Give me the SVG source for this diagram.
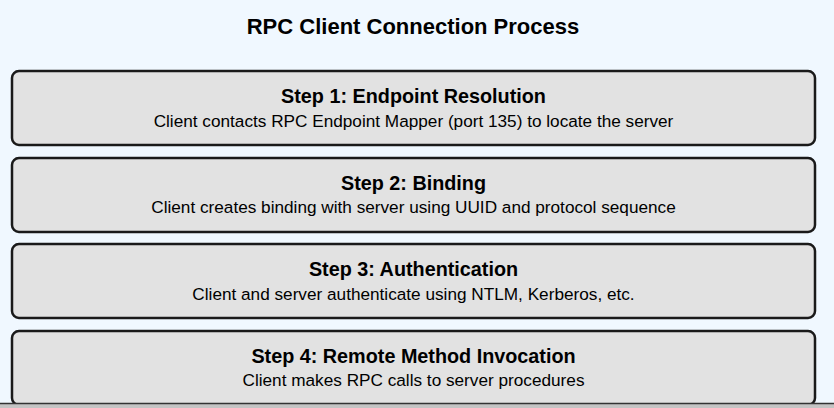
<svg xmlns="http://www.w3.org/2000/svg" width="834" height="408" viewBox="0 0 834 408">
<style>
.bg{fill:#f0f8ff}
.box{fill:#e2e2e2;stroke:#1a1a1a;stroke-width:2.5}
.title{font-family:"Liberation Sans",Arial,sans-serif;font-size:22px;font-weight:bold;fill:#000;text-anchor:middle}
.h{font-family:"Liberation Sans",Arial,sans-serif;font-size:19.8px;font-weight:bold;fill:#000;text-anchor:middle}
.d{font-family:"Liberation Sans",Arial,sans-serif;font-size:17.2px;fill:#000;text-anchor:middle}
</style>
<rect class="bg" x="0" y="0" width="834" height="408"/>
<text class="title" x="413" y="34">RPC Client Connection Process</text>
<g id="step1">
<rect class="box" x="12" y="71" width="803" height="74" rx="7"/>
<text class="h" x="413.5" y="103">Step 1: Endpoint Resolution</text>
<text class="d" x="413.5" y="127">Client contacts RPC Endpoint Mapper (port 135) to locate the server</text>
</g>
<g id="step2">
<rect class="box" x="12" y="158" width="803" height="74" rx="7"/>
<text class="h" x="413.5" y="190">Step 2: Binding</text>
<text class="d" x="413.5" y="213">Client creates binding with server using UUID and protocol sequence</text>
</g>
<g id="step3">
<rect class="box" x="12" y="244" width="803" height="74" rx="7"/>
<text class="h" x="413.5" y="276">Step 3: Authentication</text>
<text class="d" x="413.5" y="300">Client and server authenticate using NTLM, Kerberos, etc.</text>
</g>
<g id="step4">
<rect class="box" x="12" y="331" width="803" height="74" rx="7"/>
<text class="h" x="413.5" y="363">Step 4: Remote Method Invocation</text>
<text class="d" x="413.5" y="386">Client makes RPC calls to server procedures</text>
</g>
<g id="connectors"></g>
<rect x="0" y="403" width="834" height="5" fill="#c4c4c4"/>
<line x1="0" y1="403.5" x2="834" y2="403.5" stroke="#333" stroke-width="1.5"/>
</svg>
